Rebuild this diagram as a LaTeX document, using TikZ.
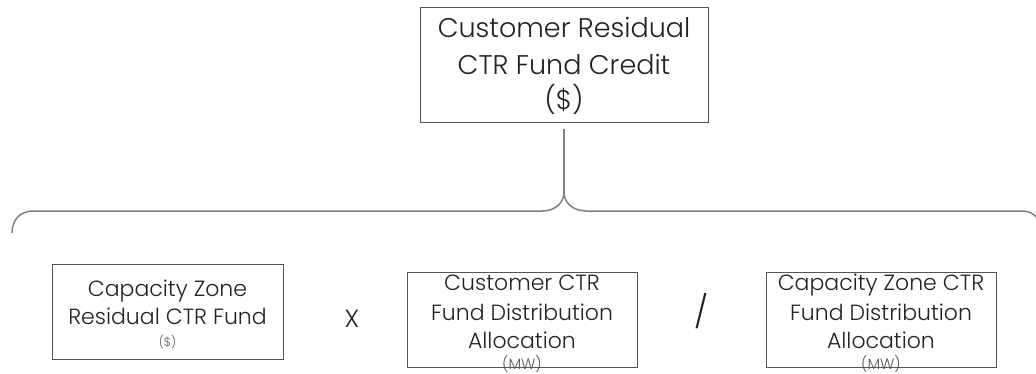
\documentclass[tikz,border=0pt]{standalone}
\usepackage{fontspec}
\IfFontExistsTF{Poppins Light}{\setmainfont{Poppins Light}}{\setmainfont{Poppins}}
\definecolor{boxline}{HTML}{555555}
\definecolor{braceline}{HTML}{808080}
\definecolor{txt}{HTML}{222222}
\tikzset{
  box/.style={draw=boxline, line width=1pt, inner sep=0pt},
  big/.style={font=\fontsize{27}{30}\selectfont, text=txt, inner sep=0pt, anchor=base},
  mid/.style={font=\fontsize{22}{26}\selectfont, text=txt, inner sep=0pt, anchor=base},
  tiny/.style={font=\fontsize{12}{14}\selectfont, text=txt!75, inner sep=0pt, anchor=base},
  small/.style={font=\fontsize{15}{17}\selectfont, text=txt!75, inner sep=0pt, anchor=base},
  brace/.style={draw=braceline, line width=1.5pt},
}
\begin{document}
\begin{tikzpicture}[x=1pt,y=-1pt]
\useasboundingbox (0,0) rectangle (1036,373);
\clip (0,0) rectangle (1036,373);
% top box
\node[box, minimum width=288pt, minimum height=115pt] (top) at (564,64.5) {};
\node[big] (t1) at (564,37) {Customer Residual};
\node[big] (t2) at (564,74) {CTR Fund Credit};
\node[big] (t3) at (564,109) {(\$)};
% brace
\coordinate (tip) at (564,192);
\draw[brace] (12,233) .. controls (12,220) and (20,211) .. (33,211) -- (542,211)
  .. controls (555,211) and (564,203) .. (tip)
  .. controls (564,203) and (573,211) .. (587,211) -- (1023,211)
  .. controls (1030,211) and (1036,215) .. (1042,224);
\draw[brace] ([yshift=-6pt]top.south) -- (tip);
% left box
\node[box, minimum width=231pt, minimum height=95pt] (lbox) at (167.5,311.5) {};
\node[mid] (l1) at (167.5,296) {Capacity Zone};
\node[mid] (l2) at (167.5,324) {Residual CTR Fund};
\node[tiny] (l3) at (167.5,346) {(\$)};
% operator X
\node[font=\fontsize{25}{28}\selectfont, text=txt, inner sep=0pt, anchor=base] (times) at (352,327) {X};
% middle box
\node[box, minimum width=230pt, minimum height=95pt] (mbox) at (522,319.5) {};
\node[mid] (m1) at (522,290) {Customer CTR};
\node[mid] (m2) at (522,320) {Fund Distribution};
\node[mid] (m3) at (522,348) {Allocation};
\node[small] (m4) at (522,369) {(MW)};
% operator /
\node[font=\fontsize{32}{36}\selectfont, text=txt, inner sep=0pt] (div) at (702,311) {/};
% right box
\node[box, minimum width=230pt, minimum height=95pt] (rbox) at (881,319.5) {};
\node[mid] (r1) at (881,290) {Capacity Zone CTR};
\node[mid] (r2) at (881,320) {Fund Distribution};
\node[mid] (r3) at (881,348) {Allocation};
\node[small] (r4) at (881,369) {(MW)};
\end{tikzpicture}
\end{document}
